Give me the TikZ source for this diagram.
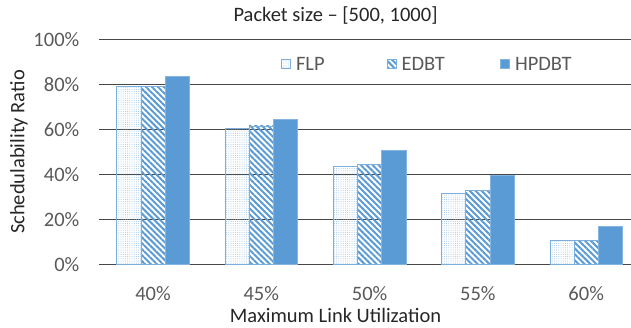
\documentclass[tikz,border=0pt]{standalone}
\usepackage{fontspec}
\setmainfont{Carlito}
\usepackage{xcolor}
\usepackage{tikz}
\usetikzlibrary{patterns.meta, positioning}
\definecolor{barblue}{HTML}{5B9BD5}
\definecolor{tickgray}{HTML}{595959}
\definecolor{titlegray}{HTML}{262626}
\newcommand{\chartfont}{\fontsize{20.5}{24}\selectfont}
\tikzstyle{gridline} = [draw=black!72, line width=1pt]
\tikzstyle{ticklabel} = [inner sep=0pt, text=tickgray, font=\chartfont]
\tikzstyle{axistitle} = [inner sep=0pt, text=titlegray, font=\chartfont]
\tikzstyle{flpbar} = [draw=barblue!80, line width=0.8pt,
    pattern={Dots[distance=2.2pt, radius=0.5pt]}, pattern color=barblue!60]
\tikzstyle{edbtbar} = [draw=barblue!80, line width=0.8pt,
    pattern={Lines[angle=-45, distance=4.2pt, line width=2pt]}, pattern color=barblue]
\tikzstyle{hpdbtbar} = [draw=barblue!75, line width=0.8pt, fill=barblue]
\tikzstyle{legendkey} = [rectangle, inner sep=0pt, minimum size=9pt]
\begin{document}
\begin{tikzpicture}[x=1pt, y=1pt]
      \useasboundingbox (0,0) rectangle (631,327);
      % Titles
      \node [axistitle] (title) at (335.5,312) {Packet size \textendash{} [500, 1000]};
      \node [axistitle, rotate=90] (ylabel) at (19,175) {Schedulability Ratio};
      \node [axistitle] (xlabel) at (335.5,12) {Maximum Link Utilization};
      % Plot area, y in percent
      \begin{scope}[shift={(0,62.7)}, y=2.25pt]
        \foreach \p in {0,20,...,100} {
          \draw [gridline] (98.8,\p) -- (631,\p);
          \node [ticklabel, anchor=east] (ytick\p) at (79.5,\p) {\p\%};
        }
        % Bars: FLP, EDBT, HPDBT
        \foreach \lab/\f/\e/\h [count=\g from 0] in {40/79/79.1/83.4, 45/60.3/61.5/64.4,
            50/43.7/44.4/50.8, 55/31.6/33/39.7, 60/10.5/10.5/17} {
          \pgfmathsetmacro\xl{116.7+108.3*\g}
          \draw [flpbar] (\xl,0) rectangle ++(24.2,\f);
          \draw [edbtbar] (\xl+24.2,0) rectangle ++(24.2,\e);
          \draw [hpdbtbar] (\xl+48.4,0) rectangle ++(24.2,\h);
          \node [ticklabel] (xtick\g) at (\xl+36.3,-12.8) {\lab\%};
        }
      \end{scope}
      % Legend
      \node [legendkey, flpbar, line width=0.6pt] (flpkey) at (286,262.7) {};
      \node [ticklabel, right=5pt of flpkey] (flptext) {FLP};
      \node [legendkey, edbtbar, line width=0.6pt] (edbtkey) at (391.5,262.7) {};
      \node [ticklabel, right=5pt of edbtkey] (edbttext) {EDBT};
      \node [legendkey, hpdbtbar, line width=0.6pt] (hpdbtkey) at (505,262.7) {};
      \node [ticklabel, right=5pt of hpdbtkey] (hpdbttext) {HPDBT};
\end{tikzpicture}
\end{document}
